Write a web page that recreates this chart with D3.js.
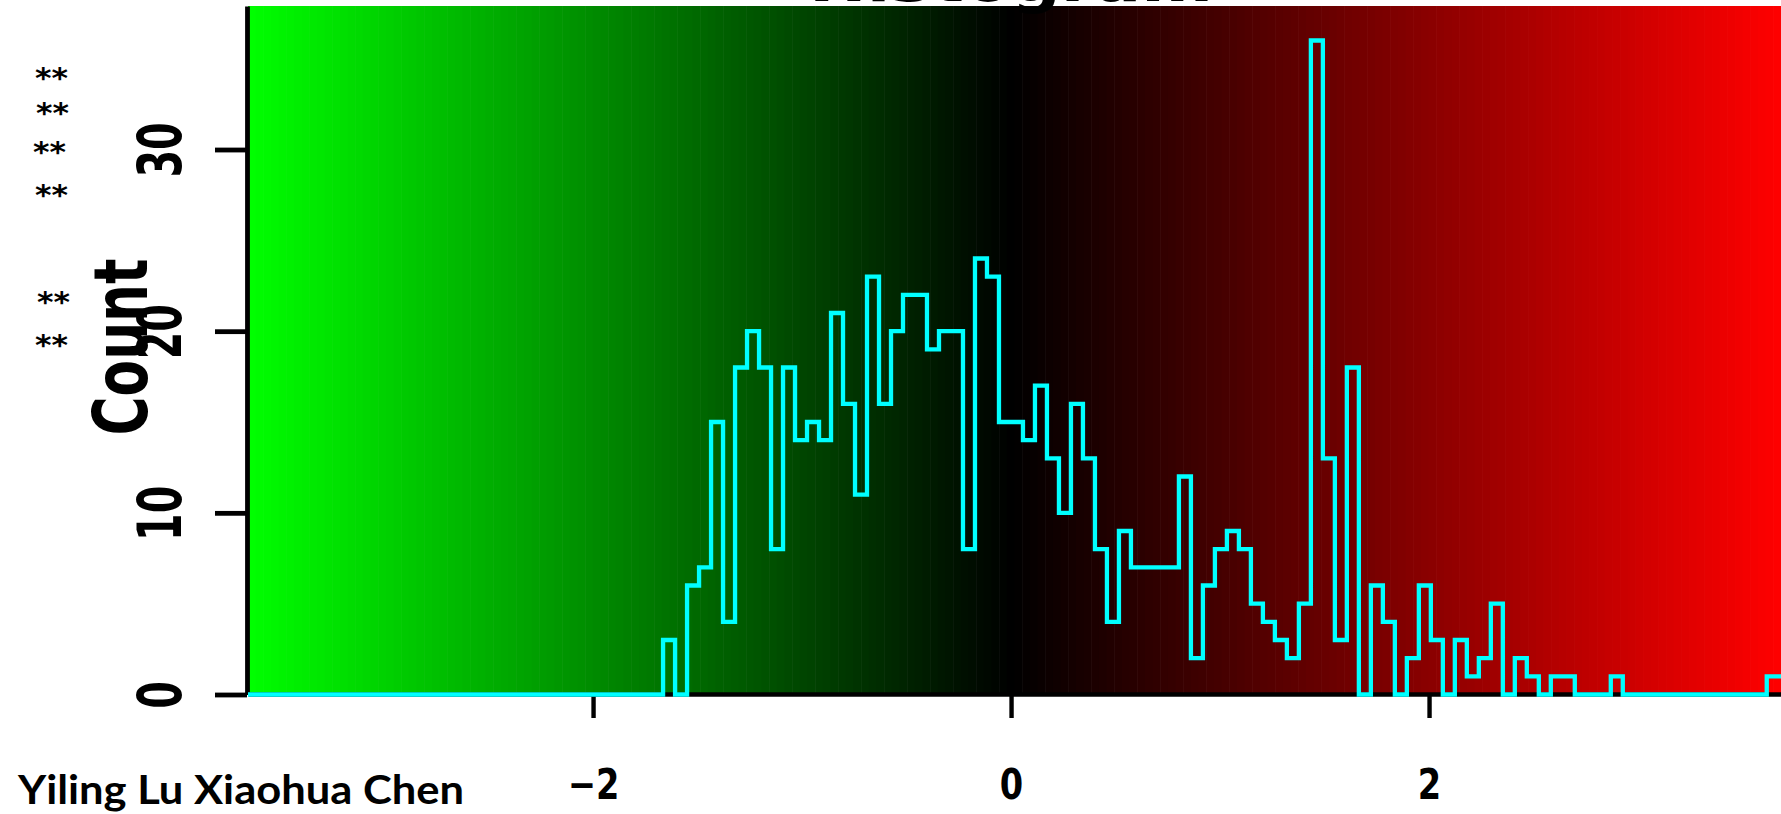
<!DOCTYPE html>
<html>
<head>
<meta charset="utf-8">
<script src="https://cdn.jsdelivr.net/npm/d3@7"></script>
<style>
  body { margin: 0; background: #fff; }
  svg { display: block; }
</style>
</head>
<body>
<div id="chart"></div>
<script>
// histogram: one count per bin, bins start at binStart and are binWidth wide
var binStart = -1.665,
    binWidth = 0.0574;
var counts = [3, 0, 6, 7, 15, 4, 18, 20, 18, 8,
              18, 14, 15, 14, 21, 16, 11, 23, 16, 20,
              22, 22, 19, 20, 20, 8, 24, 23, 15, 15,
              14, 17, 13, 10, 16, 13, 8, 4, 9, 7,
              7, 7, 7, 12, 2, 6, 8, 9, 8, 5,
              4, 3, 2, 5, 36, 13, 3, 18, 0, 6,
              4, 0, 2, 6, 3, 0, 3, 1, 2, 5,
              0, 2, 1, 0, 1, 1, 0, 0, 0, 1,
              0, 0, 0, 0, 0, 0, 0, 0, 0, 0,
              0, 0, 1, 1];

var xDomain = [-3.651, 3.684],
    yDomain = [0, 37.9];
var xTicks = [-2, 0, 2],
    yTicks = [0, 10, 20, 30];

var titleText = "Histogram",
    yTitle = "Count",
    authorText = "Yiling Lu Xiaohua Chen";
var starNotes = ["**", "**", "**", "**", "**", "**"];

var width = 1781,
    height = 814;

var x = d3.scaleLinear().domain(xDomain).range([248, 1781]);
var y = d3.scaleLinear().domain(yDomain).range([694.5, 6]);

var svg = d3.select("#chart").append("svg")
    .attr("width", width)
    .attr("height", height);

//
// background: green -> black -> red bands along the x axis
//
var nBands = 200;
var bandEdges = d3.range(nBands + 1).map(function (i) {
    return xDomain[0] + i * (xDomain[1] - xDomain[0]) / nBands;
});
var color = d3.scaleLinear()
    .domain([xDomain[0], 0, xDomain[1]])
    .range(["#00ff00", "#000000", "#ff0000"]);

svg.append("g").selectAll("rect")
    .data(bandEdges.slice(0, nBands))
    .enter()
    .append("rect")
    .attr("x", function (d) { return x(d); })
    .attr("y", y(yDomain[1]))
    .attr("width", function (d, i) { return x(bandEdges[i + 1]) - x(d) + 0.6; })
    .attr("height", y(0) - y(yDomain[1]))
    .attr("fill", function (d, i) { return color((d + bandEdges[i + 1]) / 2); });

//
// axes
//
var yAxis = d3.axisLeft(y)
    .tickValues(yTicks)
    .tickSize(32)
    .tickSizeOuter(0)
    .tickFormat(d3.format("d"));

var gy = svg.append("g")
    .attr("transform", "translate(247,0)")
    .call(yAxis);
gy.selectAll("path, line").attr("stroke", "#000").attr("stroke-width", 4.8);
gy.selectAll("text")
    .attr("x", 0)
    .attr("dy", null)
    .attr("text-anchor", "middle")
    .attr("transform", "translate(-66,0) rotate(-90) scale(0.66,1)")
    .style("font-family", "DejaVu Sans")
    .style("font-weight", "bold")
    .style("font-size", "60px");

var xAxis = d3.axisBottom(x)
    .tickValues(xTicks)
    .tickSize(24)
    .tickSizeOuter(0)
    .tickFormat(d3.format("d"));

var gx = svg.append("g")
    .attr("transform", "translate(0,694)")
    .call(xAxis);
gx.selectAll("path, line").attr("stroke", "#000").attr("stroke-width", 4.4);
gx.selectAll("text")
    .attr("y", 0)
    .attr("dy", null)
    .attr("text-anchor", "middle")
    .attr("transform", "translate(0,105) scale(0.8,1)")
    .style("font-family", "DejaVu Sans")
    .style("font-weight", "bold")
    .style("font-size", "42px");

svg.append("text")
    .attr("transform", "translate(147,347) rotate(-90)")
    .attr("text-anchor", "middle")
    .attr("textLength", 177)
    .attr("lengthAdjust", "spacingAndGlyphs")
    .style("font-family", "DejaVu Sans")
    .style("font-weight", "bold")
    .style("font-size", "75px")
    .text(yTitle);

//
// the histogram as a step line
//
var points = [[xDomain[0], 0]];
counts.forEach(function (c, i) {
    points.push([binStart + i * binWidth, c]);
});
points.push([binStart + counts.length * binWidth, counts[counts.length - 1]]);

var step = d3.line()
    .x(function (d) { return x(d[0]); })
    .y(function (d) { return y(d[1]); })
    .curve(d3.curveStepAfter);

svg.append("path")
    .datum(points)
    .attr("d", step)
    .attr("fill", "none")
    .attr("stroke", "#00ffff")
    .attr("stroke-width", 4.3);

// title, mostly cut off by the top edge
svg.append("text")
    .attr("x", 1011)
    .attr("y", 1)
    .attr("text-anchor", "middle")
    .attr("textLength", 404)
    .attr("lengthAdjust", "spacingAndGlyphs")
    .style("font-family", "DejaVu Sans")
    .style("font-weight", "bold")
    .style("font-size", "60px")
    .text(titleText);

//
// slide annotations on the left and bottom
//
var starY = [73, 108, 147, 190, 297, 340],
    starX = [35, 36, 33, 35, 37, 35];
svg.append("g").selectAll("text")
    .data(starNotes)
    .enter()
    .append("text")
    .attr("x", function (d, i) { return starX[i]; })
    .attr("y", function (d, i) { return starY[i]; })
    .attr("dy", "0.55em")
    .attr("textLength", 33)
    .attr("lengthAdjust", "spacingAndGlyphs")
    .style("font-family", "DejaVu Sans")
    .style("font-weight", "bold")
    .style("font-size", "28px")
    .text(function (d) { return d; });

svg.append("text")
    .attr("x", 18)
    .attr("y", 804)
    .attr("textLength", 446)
    .attr("lengthAdjust", "spacingAndGlyphs")
    .style("font-family", "Lato")
    .style("font-weight", "bold")
    .style("font-size", "40px")
    .text(authorText);
</script>
</body>
</html>
